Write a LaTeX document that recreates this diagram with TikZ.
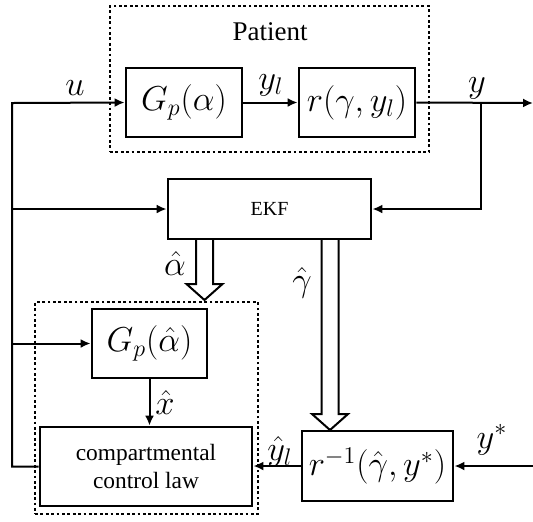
\documentclass[tikz,border=0pt]{standalone}
\usepackage{fontspec}
\setmainfont{Liberation Serif}
\usetikzlibrary{arrows.meta,calc}
\tikzset{
  blk/.style={draw, line width=1.4pt, inner sep=0pt, font=\fontsize{17}{20}\selectfont},
  grp/.style={draw, dash pattern=on 1.4pt off 1.3pt, line width=1.4pt, inner sep=0pt},
  sig/.style={line width=1pt, -{Latex[length=5pt,width=4.5pt]}},
  lbl/.style={inner sep=0pt, font=\fontsize{17}{20}\selectfont},
  fat/.style={line width=1pt, line join=miter},
}
% hollow arrow: shaft top, tip
\newcommand{\fatarrow}[2]{%
  \draw[fat] ($(#1)+(-8.5,0)$) -- ($(#2)+(-8.5,-16)$) -- ($(#2)+(-18,-16)$) -- (#2)
    -- ($(#2)+(18,-16)$) -- ($(#2)+(8.5,-16)$) -- ($(#1)+(8.5,0)$);}
\begin{document}
\begin{tikzpicture}[x=0.5pt,y=-0.5pt]
  \useasboundingbox (0,0) rectangle (533,521);
  % patient
  \node[grp, minimum width=159.5pt, minimum height=73pt] (patient) at (269.5,79) {};
  \node[font=\fontsize{13.5}{16}\selectfont] (ptlbl) at (270,32) {Patient};
  \node[blk, minimum width=58pt, minimum height=34.5pt] (gpa) at (184,102.5) {$G_p(\alpha)$};
  \node[blk, minimum width=58pt, minimum height=34.5pt] (rbox) at (357,102.5) {$r(\gamma,y_l)$};
  % estimator
  \node[blk, minimum width=101.5pt, minimum height=30pt, font=\fontsize{10}{12}\selectfont] (ekf) at (269.5,209) {EKF};
  % controller
  \node[grp, minimum width=111.5pt, minimum height=106pt] (ctrl) at (146.5,408) {};
  \node[blk, minimum width=57.5pt, minimum height=34.5pt] (gph) at (149.5,343.5) {$G_p(\hat\alpha)$};
  \node[blk, minimum width=106pt, minimum height=39.5pt, align=center,
        font=\fontsize{11.7}{14}\selectfont] (ccl) at (146,466.5) {compartmental\\control law};
  \node[blk, minimum width=75.5pt, minimum height=35pt] (rinv) at (377.5,466) {$r^{-1}(\hat\gamma,y^*)$};

  \coordinate (lft) at (12,103);
  \coordinate (yj) at (481,103);
  \coordinate (yout) at (533,103);
  \coordinate (ystar) at (533,466);
  \coordinate (atop) at (204.5,239);
  \coordinate (atip) at (204.5,300);
  \coordinate (gtop) at (330,239);
  \coordinate (gtip) at (330,430);

  % signals
  \draw[sig] (ccl.west) -| (lft) -- (gpa.west);
  \draw[sig] (gpa.east) -- (rbox.west);
  \draw[sig] (rbox.east) -- (yout);
  \draw[sig] (yj) |- (ekf.east);
  \draw[sig] (lft |- ekf.west) -- (ekf.west);
  \draw[sig] (lft |- gph.west) -- (gph.west);
  \draw[sig] (gph.south) -- (gph.south |- ccl.north);
  \draw[sig] (rinv.west) -- (rinv.west -| ccl.east);
  \draw[sig] (ystar) -- (rinv.east);
  \fatarrow{atop}{atip}
  \fatarrow{gtop}{gtip}

  % labels
  \node[lbl] (ulbl) at (75,88) {$u$};
  \node[lbl] (yllbl) at (271,85) {$y_l$};
  \node[lbl] (ylbl) at (477,88) {$y$};
  \node[lbl] (albl) at (175,263) {$\hat\alpha$};
  \node[lbl] (glbl) at (302,283) {$\hat\gamma$};
  \node[lbl] (xlbl) at (165,402) {$\hat x$};
  \node[lbl] (yhlbl) at (280,452) {$\hat y_l$};
  \node[lbl] (yslbl) at (492,440) {$y^*$};
\end{tikzpicture}
\end{document}
